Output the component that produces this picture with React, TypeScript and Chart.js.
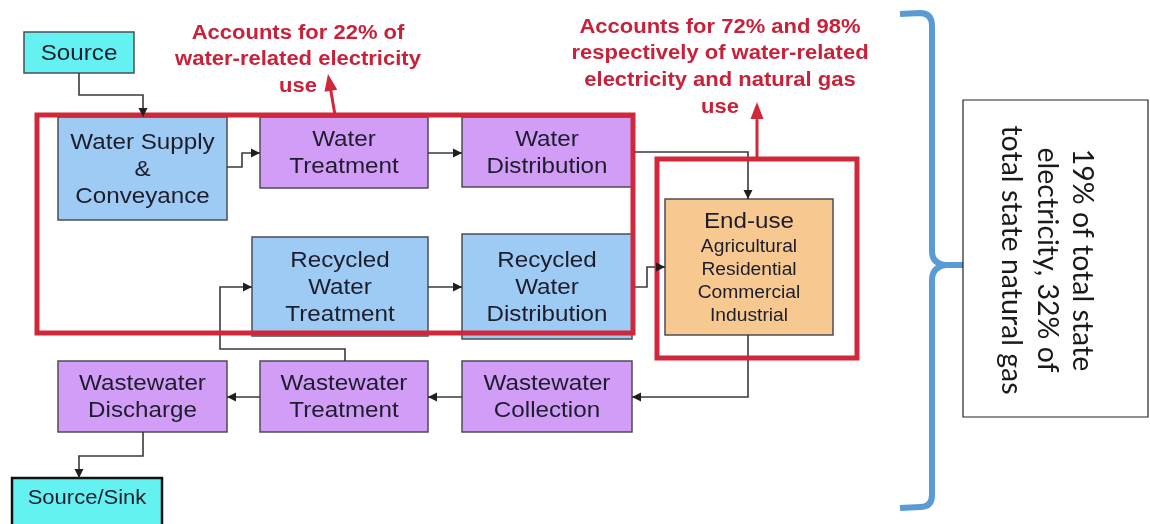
import React, { useEffect, useRef } from "react";
import { Chart, registerables } from "chart.js";

Chart.register(...registerables);

// ---- Diagram data (in diagram units; x: 0..1150, y: 0..524 top-down) ----
const nodeLabels: string[][] = [
  ["Source"],
  ["Water Supply", "&", "Conveyance"],
  ["Water", "Treatment"],
  ["Water", "Distribution"],
  ["Recycled", "Water", "Treatment"],
  ["Recycled", "Water", "Distribution"],
  ["End-use", "Agricultural", "Residential", "Commercial", "Industrial"],
  ["Wastewater", "Discharge"],
  ["Wastewater", "Treatment"],
  ["Wastewater", "Collection"],
  ["Source/Sink"],
];
const nodeBounds: number[][] = [
  [24, 32, 134, 73],
  [58, 117, 227, 220],
  [260, 117, 428, 188],
  [462, 117, 632, 187],
  [252, 237, 428, 336],
  [462, 234, 632, 339],
  [665, 199, 833, 335],
  [58, 361, 227, 432],
  [260, 361, 428, 432],
  [462, 361, 632, 432],
  [12, 478, 162, 540],
];
const nodeKinds: string[] = [
  "source", "supply", "treat", "treat", "supply", "supply", "enduse", "treat", "treat", "treat", "sink",
];

const connectorPaths: number[][][] = [
  [[79, 73], [79, 95], [143, 95], [143, 117]],
  [[227, 167], [242, 167], [242, 153], [260, 153]],
  [[428, 153], [462, 153]],
  [[632, 152], [748, 152], [748, 199]],
  [[428, 287], [462, 287]],
  [[632, 287], [647, 287], [647, 267], [665, 267]],
  [[748, 335], [748, 397], [632, 397]],
  [[462, 397], [428, 397]],
  [[260, 397], [227, 397]],
  [[345, 361], [345, 349], [220, 349], [220, 287], [252, 287]],
  [[143, 432], [143, 456], [79, 456], [79, 478]],
];

const highlightBounds: number[][] = [
  [37, 115, 633, 333],
  [657, 159, 857, 358],
];
const calloutArrows: number[][][] = [
  [[335, 115], [328, 74]],
  [[757, 159], [757, 102]],
];
const calloutText1: string[] = ["Accounts for 22% of", "water-related electricity", "use"];
const calloutText2: string[] = ["Accounts for 72% and 98%", "respectively of water-related", "electricity and natural gas", "use"];
const calloutAnchors: number[][] = [
  [298, 33],
  [720, 27],
];
const summaryBounds: number[] = [963, 100, 1148, 417];
const summaryText: string[] = ["19% of total state", "electricity, 32% of", "total state natural gas"];
const summaryCenter: number[] = [1047, 260];

const KIND_FILL: Record<string, string> = {
  source: "#63f1f1",
  sink: "#63f1f1",
  supply: "#9ecbf4",
  treat: "#d29df6",
  enduse: "#f7c88f",
};
const RED = "#d0283a";
const RED_TEXT = "#c9213a";
const LINE = "#3a3a3a";

const diagramPlugin = {
  id: "diagram",
  beforeDatasetsDraw(chart: any) {
    const ctx = chart.ctx as CanvasRenderingContext2D;
    const X = (v: number) => chart.scales.x.getPixelForValue(v);
    const Y = (v: number) => chart.scales.y.getPixelForValue(v);
    ctx.save();
    nodeBounds.forEach((b, i) => {
      const kind = nodeKinds[i];
      const x1 = X(b[0]), y1 = Y(b[1]), x2 = X(b[2]), y2 = Y(b[3]);
      ctx.fillStyle = KIND_FILL[kind];
      ctx.fillRect(x1, y1, x2 - x1, y2 - y1);
      ctx.lineWidth = kind === "sink" ? 2.5 : 1.5;
      ctx.strokeStyle = kind === "sink" ? "#111" : "#4c4c55";
      ctx.strokeRect(x1, y1, x2 - x1, y2 - y1);
      const lines = nodeLabels[i];
      const sizes = lines.map((_, j) =>
        kind === "enduse" ? (j === 0 ? 22 : 17.5) : kind === "sink" ? 20 : 22
      );
      const heights = lines.map((_, j) =>
        kind === "enduse" ? (j === 0 ? 27 : 23) : 27
      );
      const total = heights.reduce((a, c) => a + c, 0);
      const cx = (x1 + x2) / 2;
      const cy = kind === "sink" ? Y(497) : (y1 + y2) / 2;
      let yy = cy - total / 2;
      ctx.fillStyle = "#1d1d2c";
      ctx.textAlign = "center";
      ctx.textBaseline = "middle";
      lines.forEach((ln, j) => {
        const ly = yy + heights[j] / 2 + 1;
        yy += heights[j];
        ctx.save();
        ctx.translate(cx, ly);
        ctx.scale(1.1, 1);
        ctx.font = `${sizes[j]}px "Liberation Sans", Arial, sans-serif`;
        ctx.fillText(ln, 0, 0);
        ctx.restore();
      });
    });
    ctx.restore();
  },
  afterDatasetsDraw(chart: any) {
    const ctx = chart.ctx as CanvasRenderingContext2D;
    const X = (v: number) => chart.scales.x.getPixelForValue(v);
    const Y = (v: number) => chart.scales.y.getPixelForValue(v);
    ctx.save();
    const head = (p0: number[], p1: number[], len: number, half: number, color: string) => {
      const ax = X(p0[0]), ay = Y(p0[1]), bx = X(p1[0]), by = Y(p1[1]);
      const ang = Math.atan2(by - ay, bx - ax);
      ctx.save();
      ctx.translate(bx, by);
      ctx.rotate(ang);
      ctx.beginPath();
      ctx.moveTo(0, 0);
      ctx.lineTo(-len, -half);
      ctx.lineTo(-len, half);
      ctx.closePath();
      ctx.fillStyle = color;
      ctx.fill();
      ctx.restore();
    };
    connectorPaths.forEach((p) => head(p[p.length - 2], p[p.length - 1], 9, 4.5, "#1f1f1f"));
    calloutArrows.forEach((p) => head(p[0], p[1], 17, 6.5, RED));

    // callout texts
    const drawBlock = (lines: string[], anchor: number[]) => {
      lines.forEach((ln, j) => {
        ctx.save();
        ctx.translate(X(anchor[0]), Y(anchor[1] + j * 26.7));
        ctx.scale(1.1, 1);
        ctx.font = `bold 20px "Liberation Sans", Arial, sans-serif`;
        ctx.fillStyle = RED_TEXT;
        ctx.textAlign = "center";
        ctx.textBaseline = "middle";
        ctx.fillText(ln, 0, 0);
        ctx.restore();
      });
    };
    drawBlock(calloutText1, calloutAnchors[0]);
    drawBlock(calloutText2, calloutAnchors[1]);

    // curly brace
    ctx.beginPath();
    ctx.strokeStyle = "#5b9bd5";
    ctx.lineWidth = 6;
    ctx.lineCap = "butt";
    ctx.lineJoin = "round";
    ctx.moveTo(X(900), Y(14));
    ctx.lineTo(X(920), Y(13));
    ctx.quadraticCurveTo(X(932), Y(13), X(932), Y(26));
    ctx.lineTo(X(932), Y(251));
    ctx.quadraticCurveTo(X(932), Y(264), X(946), Y(265));
    ctx.lineTo(X(963), Y(265));
    ctx.moveTo(X(946), Y(265));
    ctx.quadraticCurveTo(X(932), Y(267), X(932), Y(280));
    ctx.lineTo(X(932), Y(495));
    ctx.quadraticCurveTo(X(932), Y(507), X(920), Y(507));
    ctx.lineTo(X(900), Y(508));
    ctx.stroke();

    // summary box
    const b = summaryBounds;
    const bx1 = X(b[0]), by1 = Y(b[1]), bx2 = X(b[2]), by2 = Y(b[3]);
    ctx.fillStyle = "#fff";
    ctx.fillRect(bx1, by1, bx2 - bx1, by2 - by1);
    ctx.strokeStyle = "#222";
    ctx.lineWidth = 1.2;
    ctx.strokeRect(bx1, by1, bx2 - bx1, by2 - by1);
    ctx.save();
    ctx.translate(X(summaryCenter[0]), Y(summaryCenter[1]));
    ctx.rotate(Math.PI / 2);
    ctx.font = `400 28.5px Lato, "Open Sans", sans-serif`;
    ctx.fillStyle = "#1a1a1a";
    ctx.textAlign = "center";
    ctx.textBaseline = "middle";
    summaryText.forEach((ln, j) => {
      ctx.fillText(ln, 0, (j - 1) * 35.5);
    });
    ctx.restore();
    ctx.restore();
  },
};

export default function App() {
  const ref = useRef<HTMLCanvasElement | null>(null);
  useEffect(() => {
    document.body.style.margin = "0";
    if (!ref.current) return;
    const toPts = (p: number[][]) => p.map((q) => ({ x: q[0], y: q[1] }));
    const datasets: any[] = [];
    connectorPaths.forEach((p) =>
      datasets.push({
        data: toPts(p),
        showLine: true,
        borderColor: LINE,
        borderWidth: 1.6,
        pointRadius: 0,
        tension: 0,
        fill: false,
        clip: false,
        order: 2,
        borderJoinStyle: "miter",
      })
    );
    highlightBounds.forEach((b) =>
      datasets.push({
        data: toPts([[b[0], b[1]], [b[2], b[1]], [b[2], b[3]], [b[0], b[3]], [b[0], b[1]]]),
        showLine: true,
        borderColor: RED,
        borderWidth: 5,
        pointRadius: 0,
        tension: 0,
        fill: false,
        clip: false,
        order: 0,
        borderJoinStyle: "miter",
        borderCapStyle: "square",
      })
    );
    calloutArrows.forEach((p) =>
      datasets.push({
        data: toPts([p[0], [p[0][0] + (p[1][0] - p[0][0]) * 0.7, p[0][1] + (p[1][1] - p[0][1]) * 0.7]]),
        showLine: true,
        borderColor: RED,
        borderWidth: 3,
        pointRadius: 0,
        tension: 0,
        fill: false,
        clip: false,
        order: 1,
      })
    );
    const chart = new Chart(ref.current, {
      type: "scatter",
      data: { datasets },
      options: {
        animation: false,
        responsive: false,
        events: [],
        layout: { padding: 0 },
        plugins: { legend: { display: false }, tooltip: { enabled: false } },
        scales: {
          x: { type: "linear", min: 0, max: 1150, display: false },
          y: { type: "linear", min: 0, max: 524, reverse: true, display: false },
        },
      } as any,
      plugins: [diagramPlugin],
    });
    return () => chart.destroy();
  }, []);
  return (
    <div style={{ position: "absolute", left: 0, top: 0, width: 1150, height: 524, background: "#fff" }}>
      <canvas ref={ref} width={1150} height={524} style={{ display: "block" }} />
    </div>
  );
}
